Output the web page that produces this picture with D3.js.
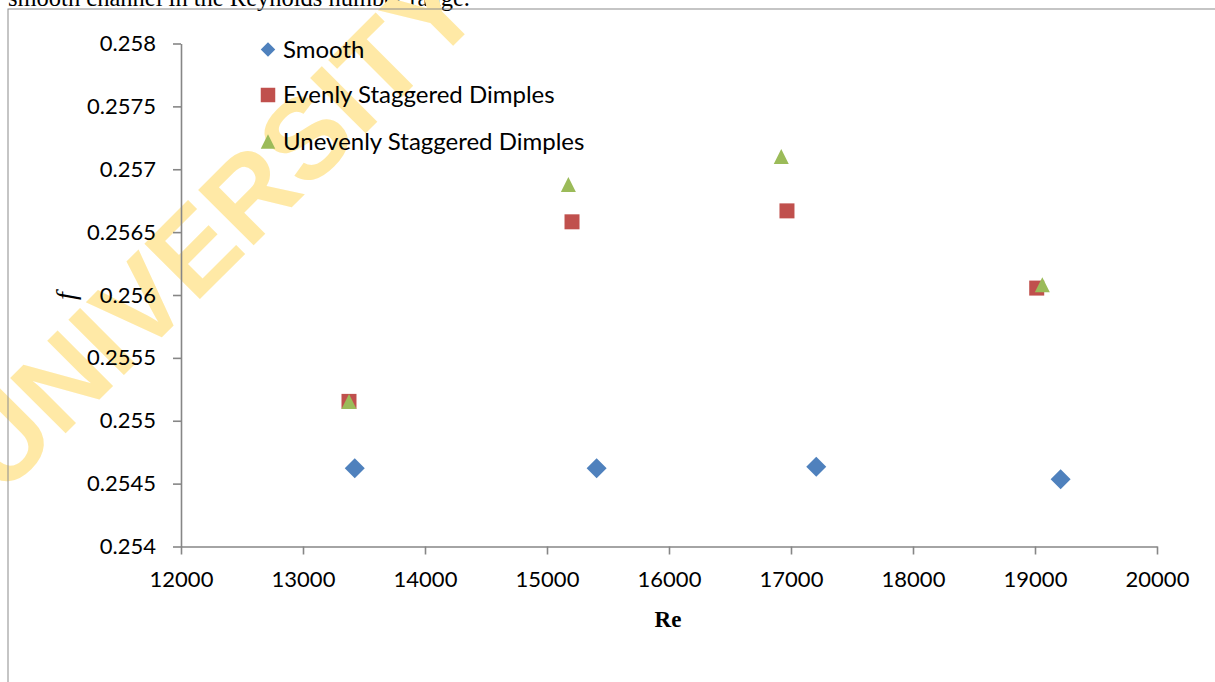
<!DOCTYPE html>
<html>
<head>
<meta charset="utf-8">
<script src="https://cdn.jsdelivr.net/npm/d3@7/dist/d3.min.js"></script>
<style>
  html, body { margin: 0; padding: 0; background: #fff; overflow: hidden; }
  svg { display: block; }
</style>
</head>
<body>
<svg id="chart" width="1215" height="682"></svg>
<script>
// ---- data ----
const xTicks = [12000, 13000, 14000, 15000, 16000, 17000, 18000, 19000, 20000];
const yTicks = [0.254, 0.2545, 0.255, 0.2555, 0.256, 0.2565, 0.257, 0.2575, 0.258];
const yTickLabels = ["0.254", "0.2545", "0.255", "0.2555", "0.256", "0.2565", "0.257", "0.2575", "0.258"];
const seriesNames = ["Smooth", "Evenly Staggered Dimples", "Unevenly Staggered Dimples"];
const smoothRe = [13424, 15407, 17207, 19210];
const smoothF  = [0.254622, 0.254622, 0.254634, 0.254534];
const evenRe   = [13377, 15205, 16967, 19014];
const evenF    = [0.255154, 0.256582, 0.256669, 0.256055];
const unevenRe = [13377, 15175, 16920, 19060];
const unevenF  = [0.255154, 0.256879, 0.257102, 0.256081];
const captionText = "smooth channel in the Reynolds number range.";
const watermarkText = "UNIVERSITY OF MALAYA";

// ---- layout ----
const svg = d3.select("#chart");
const x = d3.scaleLinear().domain([12000, 20000]).range([181, 1157]);
const y = d3.scaleLinear().domain([0.254, 0.258]).range([546.5, 43.5]);
const axisColor = "#868686";
const labelFont = "Lato, 'Open Sans', sans-serif";

// caption (cut at top, as in the reference)
svg.append("text")
  .attr("x", 8).attr("y", 6)
  .attr("font-family", "'Liberation Serif', 'Times New Roman', serif")
  .attr("font-size", 24.5)
  .attr("fill", "#000")
  .text(captionText);

// watermark
svg.append("text")
  .attr("transform", "translate(2,497) rotate(-45)")
  .attr("font-family", "'Liberation Sans', Arial, sans-serif")
  .attr("font-weight", "bold")
  .attr("font-size", 114)
  .attr("fill", "#FFE9A6")
  .text(watermarkText);

// chart border
svg.append("rect")
  .attr("x", 8).attr("y", 9)
  .attr("width", 1300).attr("height", 800)
  .attr("fill", "none")
  .attr("stroke", "#8c8c8c")
  .attr("stroke-width", 1);

// y axis
const yAxis = d3.axisLeft(y)
  .tickValues(yTicks)
  .tickFormat((d, i) => yTickLabels[i])
  .tickSize(8).tickSizeOuter(0).tickPadding(17);
const gy = svg.append("g").attr("transform", "translate(181,0)").call(yAxis);

// x axis
const xAxis = d3.axisBottom(x)
  .tickValues(xTicks)
  .tickFormat(d3.format("d"))
  .tickSize(8).tickSizeOuter(0).tickPadding(17);
const gx = svg.append("g").attr("transform", "translate(0,546.5)").call(xAxis);

[gx, gy].forEach(g => {
  g.selectAll("path, line").attr("stroke", axisColor).attr("stroke-width", 1.6);
  g.selectAll("text").attr("font-family", labelFont).attr("font-size", 22).attr("fill", "#000");
});

// axis titles
svg.append("text")
  .attr("x", 668).attr("y", 627)
  .attr("text-anchor", "middle")
  .attr("font-family", "'Liberation Serif', 'Times New Roman', serif")
  .attr("font-weight", "bold")
  .attr("font-size", 23)
  .text("Re");
svg.append("text")
  .attr("transform", "translate(75,296) rotate(-90)")
  .attr("text-anchor", "middle")
  .attr("font-family", "'Liberation Serif', 'Times New Roman', serif")
  .attr("font-style", "italic")
  .attr("font-size", 28)
  .text("f");

// markers
const colors = ["#4F81BD", "#C0504D", "#9BBB59"];
function symPath(k, size) {
  const h = size / 2;
  if (k === 0) return `M0,${-h}L${h},0L0,${h}L${-h},0Z`;        // diamond
  if (k === 1) return `M${-h},${-h}H${h}V${h}H${-h}Z`;            // square
  return `M0,${-h}L${h},${h}L${-h},${h}Z`;                        // triangle
}
const series = [
  {re: smoothRe, f: smoothF},
  {re: evenRe, f: evenF},
  {re: unevenRe, f: unevenF}
];
const plotSizes = [20, 15, 15];
series.forEach((s, k) => {
  svg.append("g").selectAll("path")
    .data(s.re.map((r, i) => [r, s.f[i]]))
    .join("path")
    .attr("transform", d => `translate(${x(d[0])},${y(d[1])})`)
    .attr("d", symPath(k, plotSizes[k]))
    .attr("fill", colors[k]);
});

// legend
const legendY = [49.5, 95, 141.5];
const lg = svg.append("g");
seriesNames.forEach((name, k) => {
  lg.append("path")
    .attr("transform", `translate(268,${legendY[k]})`)
    .attr("d", symPath(k, 14.5))
    .attr("fill", colors[k]);
  lg.append("text")
    .attr("x", 283).attr("y", legendY[k] + 8)
    .attr("font-family", labelFont)
    .attr("font-size", 24)
    .attr("fill", "#000")
    .text(name);
});
</script>
</body>
</html>
